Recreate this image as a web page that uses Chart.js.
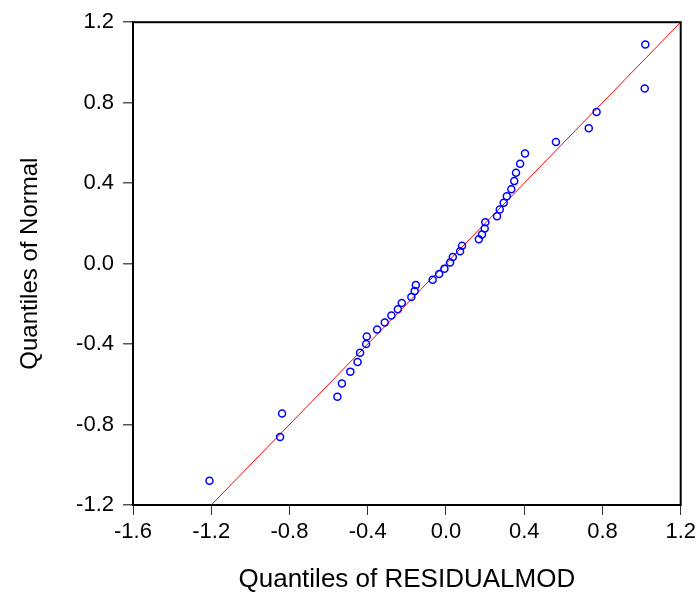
<!DOCTYPE html>
<html>
<head>
<meta charset="utf-8">
<script src="https://cdn.jsdelivr.net/npm/chart.js@4.4.1/dist/chart.umd.min.js"></script>
<style>
  html, body { margin: 0; padding: 0; background: #fff; }
  #wrap { width: 700px; height: 598px; }
</style>
</head>
<body>
<div id="wrap"><canvas id="qqChart"></canvas></div>
<script>
// quantiles of RESIDUALMOD (x) vs quantiles of Normal (y)
const residQ = [1.019, 1.016, 0.770, 0.730, 0.562, 0.404, 0.379, 0.358, 0.349, 0.334,
  0.311, 0.295, 0.275, 0.261, 0.201, 0.198, 0.184, 0.168, 0.082, 0.072,
  0.035, 0.021, -0.008, -0.035, -0.068, -0.154, -0.160, -0.177, -0.226, -0.246,
  -0.279, -0.313, -0.352, -0.405, -0.408, -0.439, -0.452, -0.489, -0.532, -0.555,
  -0.838, -0.848, -1.209];
const normalQ = [1.089, 0.870, 0.754, 0.673, 0.604, 0.547, 0.496, 0.452, 0.410, 0.370,
  0.335, 0.303, 0.269, 0.235, 0.205, 0.174, 0.145, 0.121, 0.089, 0.061,
  0.033, 0.005, -0.025, -0.052, -0.080, -0.107, -0.136, -0.166, -0.196, -0.227,
  -0.258, -0.293, -0.328, -0.362, -0.400, -0.443, -0.489, -0.537, -0.596, -0.662,
  -0.745, -0.862, -1.080];

// reference line
const lineX = [-1.2, 1.2];
const lineY = [-1.2, 1.2];

const xTicks = [-1.6, -1.2, -0.8, -0.4, 0.0, 0.4, 0.8, 1.2];
const yTicks = [-1.2, -0.8, -0.4, 0.0, 0.4, 0.8, 1.2];

const FONT = '"Liberation Sans", Arial, sans-serif';

const frame = {
  id: 'frame',
  afterDatasetsDraw(chart) {
    const a = chart.chartArea, ctx = chart.ctx;
    ctx.save();
    ctx.strokeStyle = '#000';
    ctx.lineWidth = 2;
    ctx.strokeRect(a.left, a.top, a.right - a.left, a.bottom - a.top);
    ctx.restore();
  }
};

const pts = residQ.map((x, i) => ({ x, y: normalQ[i] }));
const ref = lineX.map((x, i) => ({ x, y: lineY[i] }));

new Chart(document.getElementById('qqChart'), {
  type: 'scatter',
  data: {
    datasets: [
      { data: pts, pointStyle: 'circle', pointRadius: 3.5, borderWidth: 1.5,
        borderColor: '#0000ff', backgroundColor: 'rgba(0,0,0,0)' },
      { data: ref, showLine: true, pointRadius: 0, borderColor: '#ff0000',
        borderWidth: 1, fill: false }
    ]
  },
  options: {
    responsive: true, maintainAspectRatio: false, animation: false,
    layout: { padding: { top: 21, right: 19, left: 0, bottom: 0 } },
    plugins: { legend: { display: false }, tooltip: { enabled: false } },
    scales: {
      x: {
        min: -1.6, max: 1.2,
        afterBuildTicks: s => { s.ticks = xTicks.map(v => ({ value: v })); },
        afterFit: s => { s.height = 93; },
        grid: { drawOnChartArea: false, tickLength: 10, color: '#333', lineWidth: 1 },
        border: { display: false },
        ticks: { color: '#000', padding: 4, maxRotation: 0, font: { family: FONT, size: 22 },
          callback: v => v.toFixed(1) },
        title: { display: true, text: 'Quantiles of RESIDUALMOD', color: '#000',
          padding: { top: 0, bottom: 3 }, font: { family: FONT, size: 26 } }
      },
      y: {
        min: -1.2, max: 1.2,
        afterBuildTicks: s => { s.ticks = yTicks.map(v => ({ value: v })); },
        afterFit: s => { s.width = 133; },
        grid: { drawOnChartArea: false, tickLength: 10, color: '#555', lineWidth: 1.5 },
        border: { display: false },
        ticks: { color: '#000', padding: 9, font: { family: FONT, size: 22 },
          callback: v => v.toFixed(1) },
        title: { display: true, text: 'Quantiles of Normal', color: '#000',
          padding: { top: 16, bottom: 0 }, font: { family: FONT, size: 24 } }
      }
    }
  },
  plugins: [frame]
});
</script>
</body>
</html>
